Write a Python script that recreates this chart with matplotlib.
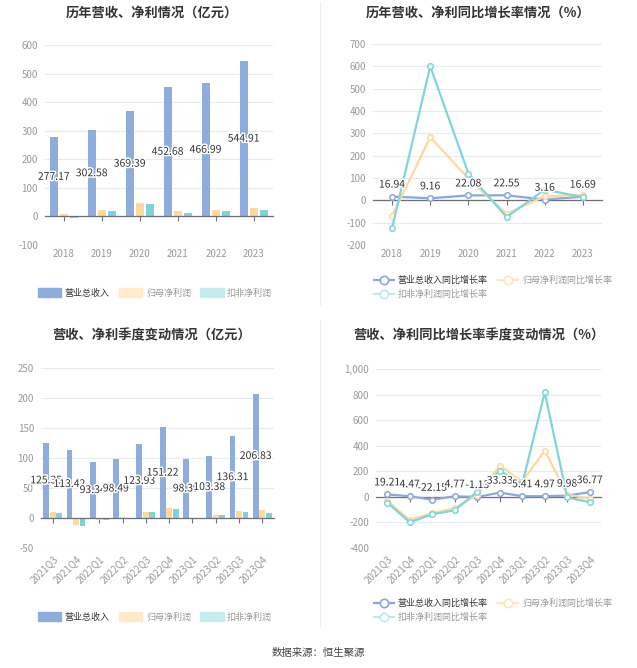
import matplotlib
matplotlib.use('Agg')
import matplotlib.pyplot as plt
import matplotlib.patheffects as pe
from matplotlib.patches import Patch
from matplotlib.lines import Line2D
import numpy as np

plt.rcParams['font.family'] = ['Noto Sans CJK SC', 'DejaVu Sans']
plt.rcParams['axes.unicode_minus'] = False

# annual data (亿元)
years = ['2018', '2019', '2020', '2021', '2022', '2023']
revenue = [277.17, 302.58, 369.39, 452.68, 466.99, 544.91]
net_profit = [7.0, 24.0, 47.5, 20.0, 23.0, 28.0]
deducted = [-4.0, 18.5, 44.0, 10.5, 18.5, 22.0]

# annual growth (%)
revenue_yoy = [16.94, 9.16, 22.08, 22.55, 3.16, 16.69]
profit_yoy = [-70, 283, 97, -60, 18, 24]
deducted_yoy = [-124, 600, 120, -75, 48, 14]

# quarterly data (亿元)
quarters = ['2021Q3', '2021Q4', '2022Q1', '2022Q2', '2022Q3',
            '2022Q4', '2023Q1', '2023Q2', '2023Q3', '2023Q4']
q_revenue = [125.35, 113.42, 93.34, 98.49, 123.93, 151.22, 98.39, 103.38, 136.31, 206.83]
q_profit = [10.5, -11.0, -3.0, 1.0, 10.5, 17.0, 0.8, 5.5, 11.0, 14.0]
q_deducted = [8.3, -14.0, -4.0, 0.5, 10.5, 15.0, 0.2, 5.5, 10.0, 8.3]

# quarterly growth (%)
q_revenue_yoy = [19.21, 4.47, -22.15, 4.77, -1.13, 33.33, 5.41, 4.97, 9.98, 36.77]
q_profit_yoy = [-30, -180, -128, -89, 15, 244, 120, 361, 18, -16]
q_deducted_yoy = [-45, -199, -136, -105, 41, 205, 100, 817, -5, -42]

C_REV = '#8EADDC'
C_PROFIT = '#FFD99C'
C_DED = '#7FD3D8'
C_REV_L = '#8BA8DE'
C_PROFIT_L = '#FFD89A'
C_DED_L = '#7ED6DA'
GRID = '#E6EAF3'
AXIS = '#6E7079'
TICK = '#9A9A9A'

W, H = 637, 668
fig = plt.figure(figsize=(W / 100, H / 100), dpi=100)
fig.patch.set_facecolor('white')


def rect(l, t, r, b):
    return [l / W, 1 - b / H, (r - l) / W, (b - t) / H]


def style_axes(ax, labels, ylim, step, rotate=False, thousands=False):
    x = np.arange(len(labels))
    ax.set_xlim(-0.5, len(labels) - 0.5)
    ax.set_ylim(*ylim)
    yt = np.arange(ylim[0], ylim[1] + 1, step)
    ax.set_yticks(yt)
    if thousands:
        ax.set_yticklabels([f'{v:,}' for v in yt])
    ax.tick_params(axis='y', length=0, labelsize=7, labelcolor=TICK, pad=5)
    for s in ['top', 'right', 'left']:
        ax.spines[s].set_visible(False)
    ax.spines['bottom'].set_position(('data', 0))
    ax.spines['bottom'].set_color(AXIS)
    ax.spines['bottom'].set_linewidth(0.9)
    ax.set_xticks(x)
    ax.tick_params(axis='x', length=3.5, color=AXIS, width=0.8, labelbottom=False)
    ax.grid(axis='y', color=GRID, lw=0.8)
    ax.set_axisbelow(True)
    sec = ax.secondary_xaxis(0)
    sec.set_xticks(x)
    if rotate:
        sec.set_xticklabels(labels, rotation=45, ha='right', rotation_mode='anchor')
        sec.tick_params(length=0, labelsize=7, labelcolor=TICK, pad=4)
    else:
        sec.set_xticklabels(labels)
        sec.tick_params(length=0, labelsize=7, labelcolor=TICK, pad=3)
    sec.spines['bottom'].set_visible(False)
    return x


stroke = [pe.withStroke(linewidth=2.2, foreground='white')]


def bar_panel(ax, labels, rev, prof, ded, ylim, step, width, off, rotate):
    x = style_axes(ax, labels, ylim, step, rotate)
    ax.bar(x - off, rev, width, color=C_REV, zorder=2)
    ax.bar(x, prof, width, color=C_PROFIT, zorder=2)
    ax.bar(x + off, ded, width, color=C_DED, zorder=2)
    for xi, v in zip(x, rev):
        ax.text(xi - off, v / 2, f'{v:.2f}', ha='center', va='center', fontsize=7.5,
                color='#333333', path_effects=stroke, zorder=5)


def line_panel(ax, labels, rev, prof, ded, ylim, step, rotate, thousands=False):
    x = style_axes(ax, labels, ylim, step, rotate, thousands)
    kw = dict(marker='o', ms=4, mfc='white', mew=1.1, lw=1.6, zorder=3)
    ax.plot(x, rev, color=C_REV_L, **kw)
    ax.plot(x, prof, color=C_PROFIT_L, **kw)
    ax.plot(x, ded, color=C_DED_L, **kw)
    for xi, v in zip(x, rev):
        ax.annotate(f'{v:.2f}', (xi, v), xytext=(0, 5), textcoords='offset points',
                    ha='center', va='bottom', fontsize=7.5, color='#333333',
                    path_effects=stroke, zorder=5)


ax1 = fig.add_axes(rect(45, 45, 273, 245))
bar_panel(ax1, years, revenue, net_profit, deducted, (-100, 600), 100, 0.22, 0.27, False)

ax2 = fig.add_axes(rect(373, 44, 602, 245))
line_panel(ax2, years, revenue_yoy, profit_yoy, deducted_yoy, (-200, 700), 100, False)

ax3 = fig.add_axes(rect(41, 368, 274, 548))
bar_panel(ax3, quarters, q_revenue, q_profit, q_deducted, (-50, 250), 50, 0.25, 0.28, True)

ax4 = fig.add_axes(rect(376, 369, 601, 548))
line_panel(ax4, quarters, q_revenue_yoy, q_profit_yoy, q_deducted_yoy, (-400, 1000), 200, True, True)

# titles
title_kw = dict(ha='center', va='center', fontsize=9.5, fontweight='bold', color='#333333')
fig.text(152 / W, 1 - 13 / H, '历年营收、净利情况（亿元）', **title_kw)
fig.text(478 / W, 1 - 13 / H, '历年营收、净利同比增长率情况（%）', **title_kw)
fig.text(152 / W, 1 - 335 / H, '营收、净利季度变动情况（亿元）', **title_kw)
fig.text(479 / W, 1 - 335 / H, '营收、净利同比增长率季度变动情况（%）', **title_kw)

# bar legends
bar_handles = [Patch(color=C_REV), Patch(color='#FFEACB'), Patch(color='#C3ECEE')]
bar_names = ['营业总收入', '归母净利润', '扣非净利润']
for ax, yc in [(ax1, 293), (ax3, 617)]:
    leg = ax.legend(bar_handles, bar_names, loc='center', bbox_to_anchor=(155 / W, 1 - yc / H),
                    bbox_transform=fig.transFigure, ncol=3, frameon=False, fontsize=6.5,
                    handlelength=2.6, handleheight=1.1, handletextpad=0.4, columnspacing=1.0)
    for t, c in zip(leg.get_texts(), ['#333333', '#999999', '#999999']):
        t.set_color(c)

# line legends (order gives row1: a, b / row2: c)
def lh(c):
    return Line2D([], [], color=c, lw=1.6, marker='o', ms=6, mfc='white', mew=1.2)

line_handles = [lh(C_REV_L), lh('#FFE6BF'), lh('#BDEBED')]
line_names = ['营业总收入同比增长率', '归母净利润同比增长率', '扣非净利润同比增长率']
order = [0, 2, 1]
for ax, yc in [(ax2, 284.5), (ax4, 607.5)]:
    leg = ax.legend([line_handles[i] for i in order], [line_names[i] for i in order],
                    loc='upper left', bbox_to_anchor=(366 / W, 1 - (yc - 17) / H),
                    bbox_transform=fig.transFigure, ncol=2, frameon=False, fontsize=6.5,
                    handlelength=2.2, handletextpad=0.4, columnspacing=1.2, labelspacing=0.55)
    for t, i in zip(leg.get_texts(), order):
        t.set_color('#333333' if i == 0 else '#999999')

# separators
fig.add_artist(Line2D([320 / W, 320 / W], [1 - 2 / H, 1 - 305 / H], color='#EEEEEE', lw=0.8))
fig.add_artist(Line2D([320 / W, 320 / W], [1 - 320 / H, 1 - 627 / H], color='#EEEEEE', lw=0.8))

fig.text(318 / W, 1 - 653 / H, '数据来源：恒生聚源', ha='center', va='center',
         fontsize=7.5, color='#444444')

fig.savefig('out.png', dpi=100, facecolor='white')
